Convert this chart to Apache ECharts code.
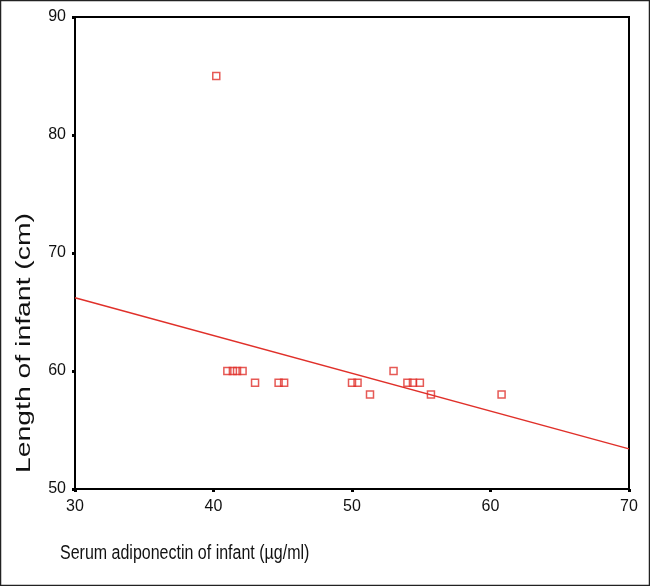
<!DOCTYPE html>
<html>
<head>
<meta charset="utf-8">
<script src="https://cdn.jsdelivr.net/npm/echarts@6/dist/echarts.min.js"></script>
<style>
  html, body { margin: 0; padding: 0; background: #fff; }
  #chart { width: 650px; height: 586px; }
</style>
</head>
<body>
<div id="chart"></div>
<script>
// serum adiponectin (x) vs length of infant (y)
const adiponectin = [40.2, 41.0, 41.4, 41.7, 42.1, 43.0, 44.7, 45.1, 50.0, 50.4, 51.3, 53.0, 54.0, 54.4, 54.9, 55.7, 60.8]
const lengthCm   = [85, 60, 60, 60, 60, 59, 59, 59, 59, 59, 58, 60, 59, 59, 59, 58, 58]
// fitted line end points
const fitX = [30, 70]
const fitY = [66.2, 53.4]

const red = '#e0302a'
const font = '"Liberation Sans", Arial, sans-serif'

const points = adiponectin.map((x, i) => [x, lengthCm[i]])
const fitLine = fitX.map((x, i) => [x, fitY[i]])

const mychart = echarts.init(document.getElementById('chart'))
mychart.setOption({
  animation: false,
  grid: {
    left: 75,
    right: 21,
    top: 17,
    bottom: 97,
    show: true,
    borderColor: '#000',
    borderWidth: 2
  },
  xAxis: {
    type: 'value',
    min: 30,
    max: 70,
    interval: 10,
    splitLine: { show: false },
    axisLine: { lineStyle: { color: '#000', width: 2 } },
    axisTick: { length: 3, lineStyle: { color: '#000', width: 3 } },
    axisLabel: { color: '#111', fontSize: 16, fontFamily: font, margin: 10 }
  },
  yAxis: {
    type: 'value',
    min: 50,
    max: 90,
    interval: 10,
    splitLine: { show: false },
    axisLine: { lineStyle: { color: '#000', width: 2 } },
    axisTick: { length: 3, lineStyle: { color: '#000', width: 3 } },
    axisLabel: { color: '#111', fontSize: 16, fontFamily: font, margin: 9, padding: [4, 0, 0, 0] }
  },
  graphic: [
    {
      type: 'rect',
      shape: { x: 0.5, y: 0.5, width: 649, height: 585 },
      style: { fill: 'none', stroke: '#222', lineWidth: 1.5 },
      silent: true
    },
    {
      // y axis title, slightly stretched along its length like the source
      type: 'text',
      x: 24,
      y: 343,
      rotation: Math.PI / 2,
      scaleX: 1.35,
      style: {
        text: 'Length of infant (cm)',
        fill: '#111',
        font: '21px ' + font,
        align: 'center',
        verticalAlign: 'middle'
      }
    },
    {
      type: 'text',
      x: 60,
      y: 553,
      scaleY: 1.25,
      style: {
        text: 'Serum adiponectin of infant (µg/ml)',
        fill: '#111',
        font: '16px ' + font,
        verticalAlign: 'middle'
      }
    }
  ],
  series: [
    {
      type: 'line',
      data: fitLine,
      symbol: 'none',
      lineStyle: { color: red, width: 1.5 },
      z: 2
    },
    {
      type: 'scatter',
      data: points,
      symbol: 'rect',
      symbolSize: 7,
      itemStyle: { color: 'rgba(0,0,0,0)', borderColor: red, borderWidth: 1.5 },
      z: 3
    }
  ]
})
</script>
</body>
</html>
